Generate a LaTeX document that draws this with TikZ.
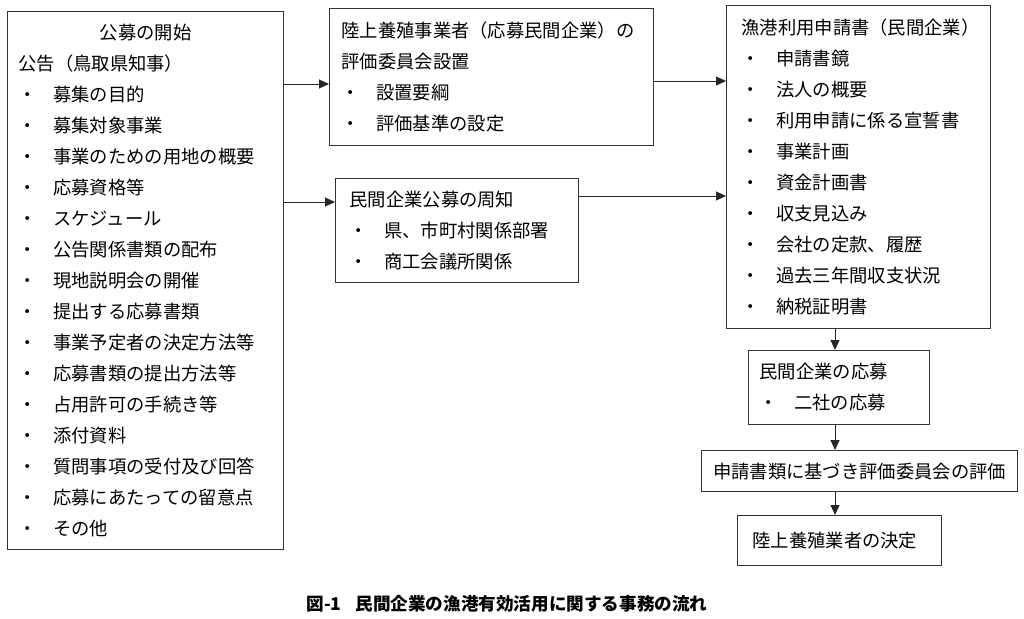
\documentclass[tikz,border=0pt]{standalone}
\usepackage{fontspec}
\setmainfont{Noto Sans CJK JP}
\newfontfamily\capfont{Noto Sans CJK JP}
\usepackage{tikz}
\usetikzlibrary{arrows.meta}

\newcommand{\bul}{\makebox[1.9em][l]{・}}

\begin{document}
\begin{tikzpicture}[x=1pt,y=-1pt,>={Triangle[length=10pt,width=9pt]}]
\tikzstyle{box} = [rectangle, draw=black!80, line width=1.1pt, anchor=north west, align=left, inner ysep=2pt, font=\fontsize{18.3}{31}\selectfont]
\tikzstyle{flow}=[->, line width=1pt, black!85]
\useasboundingbox (0,0) rectangle (1024,618);
% boxes
\node[box, inner xsep=11pt, text width=254pt, minimum height=538pt] (koukoku) at (7,11)
  {\makebox[\hsize]{公募の開始}\\
   公告（鳥取県知事）\\
   \bul 募集の目的\\
   \bul 募集対象事業\\
   \bul 事業のための用地の概要\\
   \bul 応募資格等\\
   \bul スケジュール\\
   \bul 公告関係書類の配布\\
   \bul 現地説明会の開催\\
   \bul 提出する応募書類\\
   \bul 事業予定者の決定方法等\\
   \bul 応募書類の提出方法等\\
   \bul 占用許可の手続き等\\
   \bul 添付資料\\
   \bul 質問事項の受付及び回答\\
   \bul 応募にあたっての留意点\\
   \bul その他};
\node[box, inner xsep=12pt, text width=300pt, minimum height=137pt] (iinkai) at (329,8)
  {陸上養殖事業者（応募民間企業）の\\
   評価委員会設置\\
   \bul 設置要綱\\
   \bul 評価基準の設定};
\node[box, inner xsep=14pt, text width=215pt, minimum height=104pt] (shuuchi) at (335,178)
  {民間企業公募の周知\\
   \bul 県、市町村関係部署\\
   \bul 商工会議所関係};
\node[box, inner xsep=15pt, text width=234pt, minimum height=323pt] (shinsei) at (726,5)
  {漁港利用申請書（民間企業）\\
   \bul 申請書鏡\\
   \bul 法人の概要\\
   \bul 利用申請に係る宣誓書\\
   \bul 事業計画\\
   \bul 資金計画書\\
   \bul 収支見込み\\
   \bul 会社の定款、履歴\\
   \bul 過去三年間収支状況\\
   \bul 納税証明書};
\node[box, inner xsep=11pt, text width=159pt, minimum height=74pt] (oubo) at (748,350)
  {民間企業の応募\\
   \bul 二社の応募};
\node[box, align=center, inner xsep=8pt, text width=300pt, minimum height=41pt] (hyouka) at (701,450)
  {申請書類に基づき評価委員会の評価};
\node[box, inner xsep=15pt, text width=174pt, minimum height=50pt] (kettei) at (737,515)
  {陸上養殖業者の決定};
% caption
\node[font=\capfont\bfseries\fontsize{17.6}{20}\selectfont] (caption) at (507,604)
  {図-1\hspace{0.8em}民間企業の漁港有効活用に関する事務の流れ};
% arrow levels
\coordinate (r1) at (0,84);
\coordinate (r2) at (0,202);
\coordinate (r3) at (0,81);
\coordinate (r4) at (0,196);
\coordinate (cx) at (835,0);
\path[flow] (koukoku.east |- r1) edge (iinkai.west |- r1)
            (koukoku.east |- r2) edge (shuuchi.west |- r2)
            (iinkai.east |- r3) edge (shinsei.west |- r3)
            (shuuchi.east |- r4) edge (shinsei.west |- r4)
            (shinsei.south -| cx) edge (oubo.north -| cx)
            (oubo.south -| cx) edge (hyouka.north -| cx)
            (hyouka.south -| cx) edge (kettei.north -| cx);
\end{tikzpicture}
\end{document}
